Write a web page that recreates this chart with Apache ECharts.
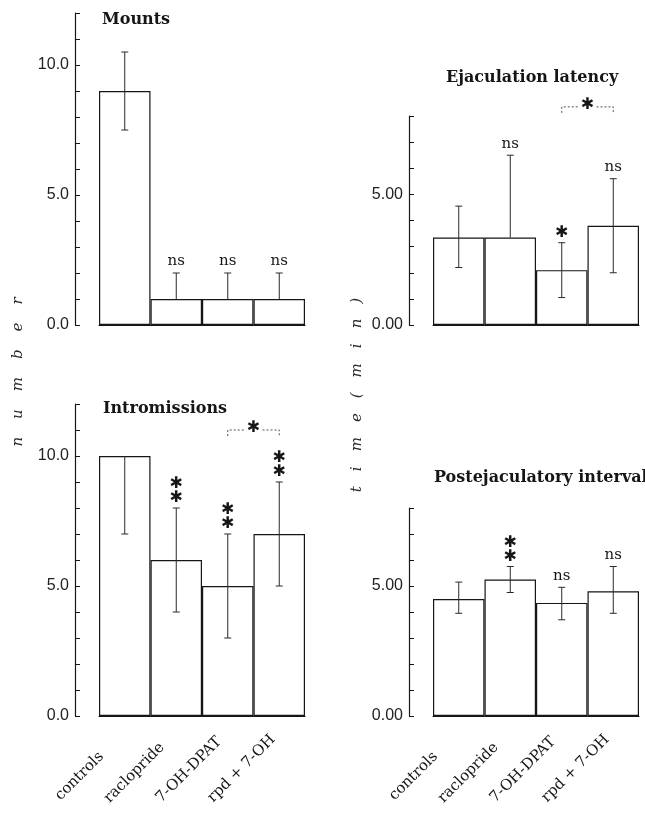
<!DOCTYPE html>
<html>
<head>
<meta charset="utf-8">
<script src="https://cdn.jsdelivr.net/npm/echarts@6/dist/echarts.min.js"></script>
<style>
  html, body { margin: 0; padding: 0; background: #fff; }
  #chart { width: 645px; height: 817px; }
</style>
</head>
<body>
<div id="chart"></div>
<script>
// ---------- data ----------
const categories = ['controls', 'raclopride', '7-OH-DPAT', 'rpd + 7-OH'];

// Mounts (number)
const mountsMean  = [9.0, 1.0, 1.0, 1.0];
const mountsLower = [7.5, null, null, null];
const mountsUpper = [10.5, 2.0, 2.0, 2.0];
const mountsMarks = ['', 'ns', 'ns', 'ns'];

// Intromissions (number)
const introMean  = [10.0, 6.0, 5.0, 7.0];
const introLower = [7.0, 4.0, 3.0, 5.0];
const introUpper = [null, 8.0, 7.0, 9.0];
const introMarks = ['', '**', '**', '**'];

// Ejaculation latency (time, min)
const ejacMean  = [3.35, 3.35, 2.1, 3.8];
const ejacLower = [2.2, null, 1.05, 2.0];
const ejacUpper = [4.55, 6.5, 3.15, 5.6];
const ejacMarks = ['', 'ns', '*', 'ns'];

// Postejaculatory interval (time, min)
const pejMean  = [4.5, 5.25, 4.35, 4.8];
const pejLower = [3.95, 4.75, 3.7, 3.95];
const pejUpper = [5.15, 5.75, 4.95, 5.75];
const pejMarks = ['', '**', 'ns', 'ns'];

// comparison brackets: [fromIndex, toIndex, level, mark]
const introBracket = [2, 3, 11.0, '*'];
const ejacBracket  = [2, 3, 8.35, '*'];

const numberMax = 12, timeMax = 8;
const numberTickLabels = [0, 5, 10];
const timeTickLabels = [0, 5];

// ---------- styling helpers ----------
const INK = '#161616';
const STAR = '\u2731';
const catShift = [33, 20, 12, 9]; // label shift back along its diagonal (px)

function errRender(params, api) {
  const x = api.value(0);
  const m = api.value(1), lo = api.value(2), hi = api.value(3);
  const c = api.coord([x, m]);
  const hasLo = Number.isFinite(lo), hasHi = Number.isFinite(hi);
  const yTop = hasHi ? api.coord([x, hi])[1] : c[1];
  const yBot = hasLo ? api.coord([x, lo])[1] : c[1];
  const w = 3.5;
  const st = { stroke: '#2a2a2a', lineWidth: 1, fill: 'none' };
  const ch = [{ type: 'line', shape: { x1: c[0], y1: yTop, x2: c[0], y2: yBot }, style: st }];
  if (hasHi) ch.push({ type: 'line', shape: { x1: c[0] - w, y1: yTop, x2: c[0] + w, y2: yTop }, style: st });
  if (hasLo) ch.push({ type: 'line', shape: { x1: c[0] - w, y1: yBot, x2: c[0] + w, y2: yBot }, style: st });
  return { type: 'group', children: ch };
}

function markRender(marks) {
  return function (params, api) {
    const idx = params.dataIndex;
    const txt = marks[idx];
    if (!txt) return null;
    const x = api.value(0);
    const top = api.value(1);
    const p = api.coord([x, top]);
    if (txt === 'ns') {
      return { type: 'text', x: p[0], y: p[1] - 4,
        style: { text: 'ns', fill: INK, font: '15px "DejaVu Serif"', align: 'center', verticalAlign: 'bottom' } };
    }
    const n = txt.length;
    const lines = [];
    for (let i = 0; i < n; i++) lines.push(STAR);
    return { type: 'text', x: p[0], y: p[1] - 3,
      style: { text: lines.join('\n'), fill: INK, font: 'bold 16px "DejaVu Sans"', lineHeight: 14,
        align: 'center', verticalAlign: 'bottom' } };
  };
}

function bracketRender(params, api) {
  const a = api.coord([api.value(0), api.value(2)]);
  const b = api.coord([api.value(1), api.value(2)]);
  const y = a[1];
  const mid = (a[0] + b[0]) / 2;
  const st = { stroke: '#555', lineWidth: 1, lineDash: [2, 2], fill: null };
  return { type: 'group', children: [
    { type: 'polyline', shape: { points: [[a[0], y + 6], [a[0], y], [mid - 9, y]] }, style: st },
    { type: 'polyline', shape: { points: [[mid + 9, y], [b[0], y], [b[0], y + 6]] }, style: st },
    { type: 'text', x: mid, y: y - 2, style: { text: STAR, fill: INK, font: 'bold 16px "DejaVu Sans"', align: 'center', verticalAlign: 'middle' } }
  ]};
}

function topOf(mean, upper) { return mean.map((m, i) => (upper[i] == null ? m : upper[i])); }

// ---------- layout ----------
const panels = [
  { title: 'Mounts', mean: mountsMean, lo: mountsLower, hi: mountsUpper, marks: mountsMarks,
    max: numberMax, labels: numberTickLabels, dec: 1, grid: { left: 99, top: 13, width: 206, height: 312 },
    titlePos: { left: 102, top: 12 }, bracket: null },
  { title: 'Intromissions', mean: introMean, lo: introLower, hi: introUpper, marks: introMarks,
    max: numberMax, labels: numberTickLabels, dec: 1, grid: { left: 99, top: 404, width: 206, height: 312 },
    titlePos: { left: 103, top: 401 }, bracket: introBracket, showCats: true },
  { title: 'Ejaculation latency', mean: ejacMean, lo: ejacLower, hi: ejacUpper, marks: ejacMarks,
    max: timeMax, labels: timeTickLabels, dec: 2, grid: { left: 433, top: 116, width: 206, height: 209 },
    titlePos: { left: 446, top: 70 }, bracket: ejacBracket },
  { title: 'Postejaculatory interval', mean: pejMean, lo: pejLower, hi: pejUpper, marks: pejMarks,
    max: timeMax, labels: timeTickLabels, dec: 2, grid: { left: 433, top: 508, width: 206, height: 208 },
    titlePos: { left: 434, top: 470 }, bracket: null, showCats: true }
];

const catRich = {};
catShift.forEach((s, i) => {
  catRich['c' + i] = { padding: [0, s, 0, 0], fontFamily: 'DejaVu Serif', fontSize: 15, color: INK };
});

const option = {
  backgroundColor: '#ffffff',
  animation: false,
  title: panels.map(p => ({
    text: p.title, left: p.titlePos.left, top: p.titlePos.top, padding: 0,
    textStyle: { fontFamily: 'DejaVu Serif', fontWeight: 'bold', fontSize: 16, color: INK }
  })),
  grid: panels.map(p => Object.assign({ containLabel: false, outerBoundsMode: 'none' }, p.grid)),
  xAxis: panels.map((p, i) => ({
    type: 'category', gridIndex: i, data: categories,
    axisLine: { show: true, lineStyle: { color: INK, width: 1.2 } },
    axisTick: { show: false },
    axisLabel: p.showCats ? { show: true, interval: 0, rotate: 45, margin: 15,
      fontFamily: 'DejaVu Serif', fontSize: 15, color: INK,
      formatter: (v, k) => '{c' + k + '|' + v + '}', rich: catRich } : { show: false },
    splitLine: { show: false }
  })),
  yAxis: panels.map((p, i) => ({
    type: 'value', gridIndex: i, min: 0, max: p.max, interval: 1, offset: 24,
    axisLine: { show: true, lineStyle: { color: INK, width: 1.2 } },
    axisTick: { show: true, inside: true, length: 5, lineStyle: { color: INK, width: 1 } },
    axisLabel: { show: true, margin: 6, fontFamily: 'Liberation Sans', fontSize: 16, color: '#222',
      formatter: v => (p.labels.indexOf(v) >= 0 ? v.toFixed(p.dec) : '') },
    splitLine: { show: false }
  })),
  graphic: [
    { type: 'text', x: 18, y: 372, rotation: Math.PI / 2,
      style: { text: 'n\u2003\u2009u\u2003\u2009m\u2003\u2009b\u2003\u2009e\u2003\u2009r', fill: '#2a2a2a',
        font: 'italic 15px "DejaVu Serif"', align: 'center', verticalAlign: 'middle' } },
    { type: 'text', x: 357, y: 395, rotation: Math.PI / 2,
      style: { text: 't\u2003i\u2003m\u2003e\u2003(\u2003m\u2003i\u2003n\u2003)', fill: '#2a2a2a',
        font: 'italic 15px "DejaVu Serif"', align: 'center', verticalAlign: 'middle' } }
  ],
  series: []
};

panels.forEach((p, i) => {
  option.series.push({
    type: 'bar', xAxisIndex: i, yAxisIndex: i, data: p.mean,
    barCategoryGap: '0%', barGap: '0%',
    itemStyle: { color: '#ffffff', borderColor: INK, borderWidth: 1.2 },
    silent: true, z: 2
  });
  option.series.push({
    type: 'custom', xAxisIndex: i, yAxisIndex: i, clip: false, z: 3,
    data: p.mean.map((m, k) => [k, m, p.lo[k] == null ? NaN : p.lo[k], p.hi[k] == null ? NaN : p.hi[k]]),
    renderItem: errRender, silent: true
  });
  const tops = topOf(p.mean, p.hi);
  option.series.push({
    type: 'custom', xAxisIndex: i, yAxisIndex: i, clip: false, z: 4,
    data: tops.map((t, k) => [k, t]),
    renderItem: markRender(p.marks), silent: true
  });
  if (p.bracket) {
    option.series.push({
      type: 'custom', xAxisIndex: i, yAxisIndex: i, clip: false, z: 4,
      data: [p.bracket.slice(0, 3)],
      renderItem: bracketRender, silent: true
    });
  }
});

const chart = echarts.init(document.getElementById('chart'), null, { renderer: 'canvas' });
chart.setOption(option);
</script>
</body>
</html>
